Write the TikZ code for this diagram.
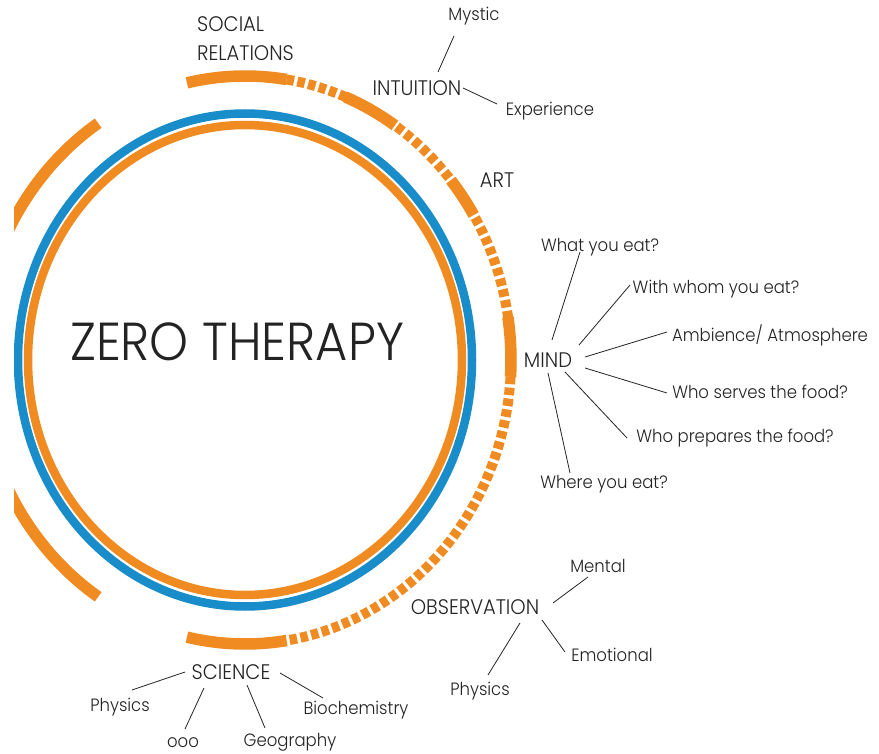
\documentclass[tikz,border=0pt]{standalone}
\usepackage{fontspec}
\IfFontExistsTF{Poppins Light}{\setmainfont{Poppins Light}}{\setmainfont{Poppins}}
\definecolor{orng}{RGB}{240,139,34}
\definecolor{blu}{RGB}{24,141,201}
\definecolor{ink}{RGB}{35,35,35}
\begin{document}
\begin{tikzpicture}[x=1pt,y=1pt,
  txt/.style={inner sep=1pt, text=ink, yscale=1.08},
  lbl/.style={txt, font=\fontsize{16.5}{18}\selectfont},
  hd/.style={txt, font=\fontsize{19.5}{27}\selectfont},
  link/.style={draw=ink, line width=0.8pt},
  ringline/.style={line width=8.5pt},
  outsolid/.style={draw=orng, line width=11.5pt},
  outdash/.style={draw=orng, line width=10pt, dash pattern=on 7.5pt off 3.5pt}]
\useasboundingbox (0,-754) rectangle (879,0);
\begin{scope}
\clip (14,-754) rectangle (879,0);
\coordinate (C) at (245,-360);
\draw[ringline, blu] (C) ellipse [x radius=227, y radius=246.5];
\draw[ringline, orng] (C) ellipse [x radius=217, y radius=235];
% outer ring
\draw[outdash] ([shift={(81:266 and 284)}]C) arc[start angle=81, end angle=-81, x radius=266, y radius=284];
\draw[outsolid] ([shift={(102.6:266 and 284)}]C) arc[start angle=102.6, end angle=81, x radius=266, y radius=284];
\draw[outsolid] ([shift={(67.9:266 and 284)}]C) arc[start angle=67.9, end angle=55.7, x radius=266, y radius=284];
\draw[outsolid] ([shift={(39.3:266 and 284)}]C) arc[start angle=39.3, end angle=30.7, x radius=266, y radius=284];
\draw[outsolid] ([shift={(8.7:266 and 284)}]C) arc[start angle=8.7, end angle=-3.4, x radius=266, y radius=284];
\draw[outsolid] ([shift={(-81:266 and 284)}]C) arc[start angle=-81, end angle=-102.6, x radius=266, y radius=284];
\draw[outsolid] ([shift={(123.5:266 and 284)}]C) arc[start angle=123.5, end angle=236.5, x radius=266, y radius=284];
\end{scope}

% title
\node[txt, font=\fontsize{49.5}{52}\selectfont] (zero) at (237,-342) {ZERO THERAPY};

% headings
\node[hd, align=left, anchor=north west] (social) at (196,-15) {SOCIAL\\RELATIONS};
\node[hd] (intuition) at (417,-88) {INTUITION};
\node[hd] (art) at (497,-180) {ART};
\node[hd] (mind) at (548,-360) {MIND};
\node[hd] (obs) at (475,-607) {OBSERVATION};
\node[hd] (sci) at (231,-672) {SCIENCE};

% leaves
\node[lbl] (mystic) at (474,-16) {Mystic};
\node[lbl] (exper) at (550,-111) {Experience};
\node[lbl] (what) at (600,-247) {What you eat?};
\node[lbl] (with) at (716,-289) {With whom you eat?};
\node[lbl] (amb) at (770,-335) {Ambience/ Atmosphere};
\node[lbl] (serves) at (760,-392) {Who serves the food?};
\node[lbl] (prep) at (735,-438) {Who prepares the food?};
\node[lbl] (where) at (604,-484) {Where you eat?};
\node[lbl] (mental) at (598,-566) {Mental};
\node[lbl] (emo) at (612,-655) {Emotional};
\node[lbl] (phys2) at (480,-691) {Physics};
\node[lbl] (phys1) at (120,-707) {Physics};
\node[lbl] (ooo) at (183,-743) {ooo};
\node[lbl] (geo) at (290,-742) {Geography};
\node[lbl] (bio) at (356,-710) {Biochemistry};

% connectors
\draw[link] ([shift={(-20,-20)}]mystic.center) -- ([shift={(21,16)}]intuition.center);
\draw[link] ([shift={(46,0)}]intuition.center) -- ([shift={(-53,7)}]exper.center);

\draw[link] ([shift={(4,20)}]mind.center) -- ([shift={(-20,-5)}]what.center);
\draw[link] ([shift={(31,15)}]mind.center) -- ([shift={(-86,4)}]with.center);
\draw[link] ([shift={(37,3)}]mind.center) -- ([shift={(-103,3)}]amb.center);
\draw[link] ([shift={(37,-8)}]mind.center) -- ([shift={(-93,-1)}]serves.center);
\draw[link] ([shift={(17,-12)}]mind.center) -- ([shift={(-108,0)}]prep.center);
\draw[link] ([shift={(0,-13)}]mind.center) -- ([shift={(-34,11)}]where.center);

\draw[link] ([shift={(78,4)}]obs.center) -- ([shift={(-10,-11)}]mental.center);
\draw[link] ([shift={(67,-13)}]obs.center) -- ([shift={(-47,3)}]emo.center);
\draw[link] ([shift={(45,-16)}]obs.center) -- ([shift={(8,16)}]phys2.center);

\draw[link] ([shift={(-46,0)}]sci.center) -- ([shift={(12,17)}]phys1.center);
\draw[link] ([shift={(-27,-16)}]sci.center) -- ([shift={(2,14)}]ooo.center);
\draw[link] ([shift={(16,-13)}]sci.center) -- ([shift={(-25,14)}]geo.center);
\draw[link] ([shift={(49,-1)}]sci.center) -- ([shift={(-33,12)}]bio.center);
\end{tikzpicture}
\end{document}
